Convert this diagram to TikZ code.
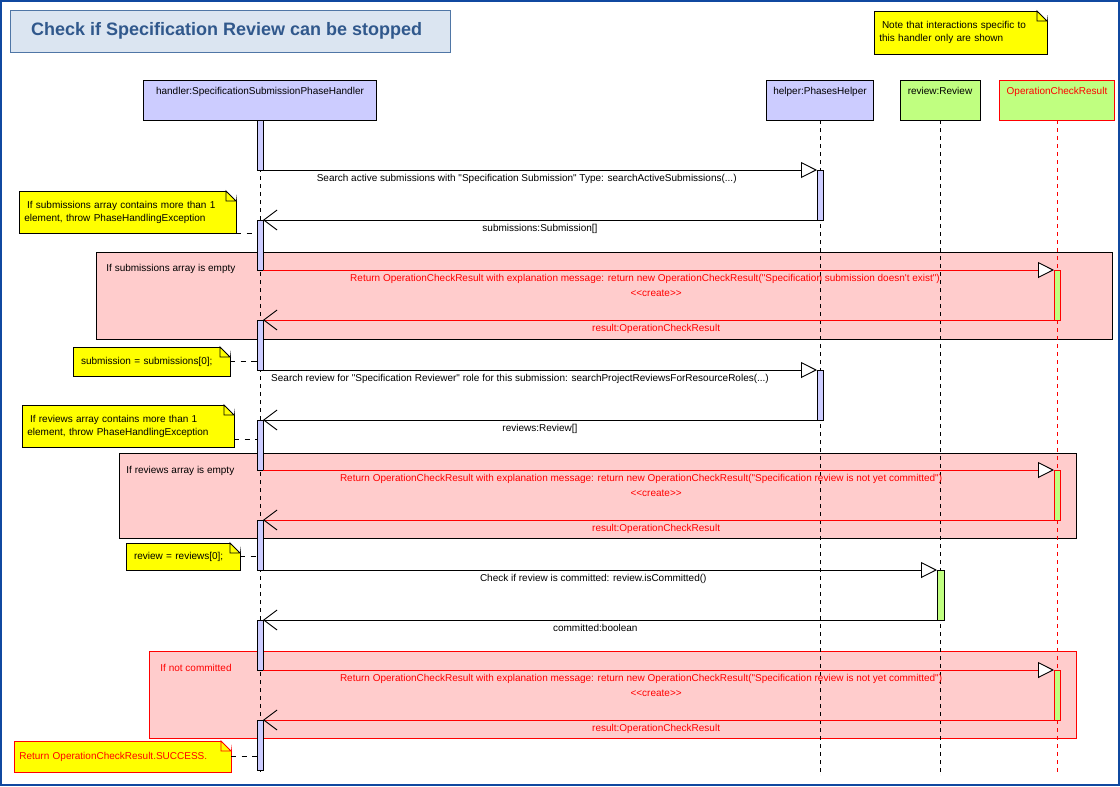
\documentclass[tikz,border=0pt]{standalone}
\usepackage{fontspec}
\setmainfont{Liberation Sans}[Ligatures=TeXOff]
\usetikzlibrary{arrows.meta}

\definecolor{outerblue}{RGB}{16,72,160}
\definecolor{titlefill}{RGB}{219,229,241}
\definecolor{titleedge}{RGB}{79,118,166}
\definecolor{titletext}{RGB}{48,88,140}
\definecolor{headblue}{RGB}{204,204,255}
\definecolor{headgreen}{RGB}{192,255,128}
\definecolor{framepink}{RGB}{255,204,204}
\definecolor{noteyellow}{RGB}{255,255,0}

\tikzset{
  lifehead/.style={draw=black, fill=headblue, minimum height=30pt, inner xsep=0pt, inner ysep=3pt, text height=8pt, text depth=16pt},
  actbar/.style={draw=black, fill=headblue, minimum width=4.5pt, minimum height=37.5pt, inner sep=0pt, outer sep=0pt},
  lifeline/.style={dash pattern=on 3pt off 3pt},
  callmsg/.style={-{Triangle[length=12pt,width=12pt,fill=white,color=black]}},
  replymsg/.style={-{Straight Barb[length=10pt,width=15pt,color=black]}},
  msglabel/.style={anchor=north, inner sep=0pt, yshift=-3pt},
  notebox/.style={draw=black, fill=noteyellow, align=left, inner xsep=4pt, inner ysep=0pt, outer sep=0pt},
  noteline/.style={dash pattern=on 4pt off 4pt},
  fragment/.style={draw=black, fill=framepink},
  fraglabel/.style={anchor=north west, inner sep=0pt},
}

\begin{document}
\begin{tikzpicture}[x=0.75pt, y=-0.75pt, line width=0.7pt, font=\fontsize{7.5}{9.75}\selectfont]
    \useasboundingbox (0,0) rectangle (1120,786);
    \draw[outerblue, line width=1.5pt] (1,1) rectangle (1119,785);

    % title and top note
    \node[draw=titleedge, fill=titlefill, minimum width=330pt, minimum height=31.5pt, text=titletext, font=\fontsize{13.5}{15}\selectfont\bfseries] (title) at (230,31) {\hspace*{-5pt}Check if Specification Review can be stopped};
    \node[notebox, text width=121.75pt, minimum height=32.25pt] (nTop) at (960.5,32.5) {\hspace*{2pt}Note that interactions specific to\\this handler only are shown};

    % lifeline heads
    \node[lifehead, minimum width=174.75pt] (hHandler) at (260,100) {handler:SpecificationSubmissionPhaseHandler};
    \node[lifehead, minimum width=80.25pt] (hHelper) at (820,100) {helper:PhasesHelper};
    \node[lifehead, fill=headgreen, minimum width=60pt] (hReview) at (940,100) {review:Review};
    \node[lifehead, fill=headgreen, draw=red, text=red, minimum width=86.25pt] (hResult) at (1057,100) {OperationCheckResult};

    % combined fragments
    \draw[fragment] (96,252) rectangle (1112,339);
    \draw[fragment] (119,453) rectangle (1076,538);
    \draw[fragment, draw=red] (149,651) rectangle (1076,738);
    \node[fraglabel] (fEmptySub) at (106,264) {If submissions array is empty};
    \node[fraglabel] (fEmptyRev) at (126,466) {If reviews array is empty};
    \node[fraglabel, text=red] (fNotCommitted) at (160,664) {If not committed};

    % lifelines
    \coordinate (bottom) at (0,775);
    \draw[lifeline] (hHandler.south) -- (hHandler.south |- bottom);
    \draw[lifeline] (hHelper.south) -- (hHelper.south |- bottom);
    \draw[lifeline] (hReview.south) -- (hReview.south |- bottom);
    \draw[lifeline, red] (hResult.south) -- (hResult.south |- bottom);

    % activation bars
    \foreach \y [count=\i] in {145,245,345,445,545,645,745} {
        \node[actbar] (hB\i) at (260,\y) {};
    }
    \node[actbar] (pB1) at (820,195) {};
    \node[actbar] (pB2) at (820,395) {};
    \node[actbar, fill=headgreen, minimum width=5.25pt] (rB1) at (940.5,595) {};
    \foreach \y [count=\i] in {295,495,695} {
        \node[actbar, fill=headgreen, draw=red] (oB\i) at (1057,\y) {};
    }

    % messages
    \draw[callmsg] (hB1.south east) -- node[msglabel, pos=0.476] (m1) {Search active submissions with "Specification Submission" Type: searchActiveSubmissions(...)} (pB1.north west);
    \draw[replymsg] (pB1.south west) -- node[msglabel] (r1) {submissions:Submission[]} (hB2.north east);
    \draw[callmsg, red] (hB2.south east) -- node[msglabel, pos=0.483] (m2) {Return OperationCheckResult with explanation message: return new OperationCheckResult("Specification submission doesn't exist")} node[msglabel, yshift=-12pt, pos=0.497] (c2) {<<create>>} (oB1.north west);
    \draw[replymsg, red] (oB1.south west) -- node[msglabel, pos=0.503] (r2) {result:OperationCheckResult} (hB3.north east);
    \draw[callmsg] (hB3.south east) -- node[msglabel, pos=0.464] (m3) {Search review for "Specification Reviewer" role for this submission: searchProjectReviewsForResourceRoles(...)} (pB2.north west);
    \draw[replymsg] (pB2.south west) -- node[msglabel] (r3) {reviews:Review[]} (hB4.north east);
    \draw[callmsg, red] (hB4.south east) -- node[msglabel, pos=0.478] (m4) {Return OperationCheckResult with explanation message: return new OperationCheckResult("Specification review is not yet committed")} node[msglabel, yshift=-12pt, pos=0.497] (c4) {<<create>>} (oB2.north west);
    \draw[replymsg, red] (oB2.south west) -- node[msglabel, pos=0.503] (r4) {result:OperationCheckResult} (hB5.north east);
    \draw[callmsg] (hB5.south east) -- node[msglabel, pos=0.49] (m5) {Check if review is committed: review.isCommitted()} (rB1.north west);
    \draw[replymsg] (rB1.south west) -- node[msglabel, pos=0.507] (r5) {committed:boolean} (hB6.north east);
    \draw[callmsg, red] (hB6.south east) -- node[msglabel, pos=0.478] (m6) {Return OperationCheckResult with explanation message: return new OperationCheckResult("Specification review is not yet committed")} node[msglabel, yshift=-12pt, pos=0.497] (c6) {<<create>>} (oB3.north west);
    \draw[replymsg, red] (oB3.south west) -- node[msglabel, pos=0.503] (r6) {result:OperationCheckResult} (hB7.north east);

    % notes on the handler
    \node[notebox, text width=154.75pt, minimum height=31.5pt] (nSubMany) at (127.5,212) {\hspace*{2pt}If submissions array contains more than 1\\element, throw PhaseHandlingException};
    \node[notebox, text width=109.75pt, minimum height=21.75pt] (nSubFirst) at (151.5,361.5) {\hspace*{2pt}submission = submissions[0];};
    \node[notebox, text width=151pt, minimum height=31.5pt] (nRevMany) at (128,426) {\hspace*{2pt}If reviews array contains more than 1\\element, throw PhaseHandlingException};
    \node[notebox, text width=77.5pt, minimum height=20.25pt] (nRevFirst) at (183,556.5) {\hspace*{2pt}review = reviews[0];};
    \node[notebox, draw=red, text=red, text width=154.75pt, minimum height=23.25pt] (nSuccess) at (122.5,756.5) {Return OperationCheckResult.SUCCESS.};

    % folded corners
    \foreach \n/\c in {nTop/black, nSubMany/black, nSubFirst/black, nRevMany/black, nRevFirst/black, nSuccess/red} {
        \fill[white] ([xshift=-7.5pt]\n.north east) -- ([shift={(1pt,1pt)}]\n.north east) -- ([yshift=-7.5pt]\n.north east) -- cycle;
        \draw[\c] ([xshift=-7.5pt]\n.north east) -- ([yshift=-7.5pt]\n.north east) -- ([shift={(-7.5pt,-7.5pt)}]\n.north east) -- cycle;
    }

    \draw[noteline] (nSubMany.south east) -- (nSubMany.south east -| hB2.west);
    \draw[noteline] (nSubFirst.east) -- (nSubFirst.east -| hB3.west);
    \draw[noteline] ([yshift=6pt]nRevMany.south east) -- ([yshift=6pt]nRevMany.south east -| hB4.west);
    \draw[noteline] (nRevFirst.east) -- (nRevFirst.east -| hB5.west);
    \draw[noteline] (nSuccess.east) -- (nSuccess.east -| hB7.west);
\end{tikzpicture}
\end{document}
